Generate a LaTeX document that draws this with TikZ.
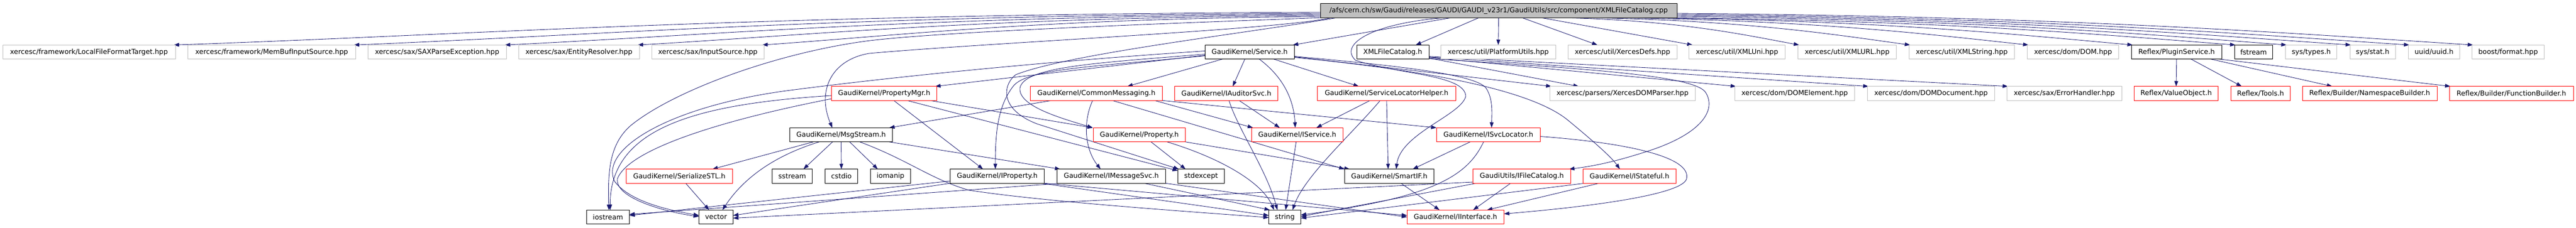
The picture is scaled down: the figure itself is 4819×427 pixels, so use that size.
\documentclass[tikz,border=0pt]{standalone}
\usepackage{fontspec}
\setmainfont{DejaVu Sans}
\usetikzlibrary{arrows.meta}
\definecolor{edgec}{HTML}{191970}
\definecolor{gborder}{HTML}{BFBFBF}
\definecolor{hfill}{HTML}{BFBFBF}
\pgfdeclarelayer{bg}
\pgfdeclarelayer{edges}
\pgfsetlayers{bg,edges,main}
\newcommand\nodefnt{\fontsize{12.85}{15}\selectfont}
\tikzset{
 boxk/.style={rectangle, draw=black, fill=white, line width=0.9pt, inner sep=0pt, outer sep=0pt, minimum height=26.5pt, font=\nodefnt, text=black},
 boxr/.style={boxk, draw=red},
 boxg/.style={boxk, draw=gborder},
 boxh/.style={boxk, fill=hfill},
 dep/.style={draw=edgec, line width=0.85pt, -{Triangle[length=10pt,width=7pt]}},
}
\begin{document}
\begin{tikzpicture}[x=1pt,y=-1pt]
\begin{pgfonlayer}{bg}
\fill[white] (0,0) rectangle (4819,427);
\end{pgfonlayer}
\useasboundingbox (0,0) rectangle (4819,427);
% row 0
\node[boxh, minimum width=667pt] (H) at (2803.5,20) {/afs/cern.ch/sw/Gaudi/releases/GAUDI/GAUDI\_v23r1/GaudiUtils/src/component/XMLFileCatalog.cpp};
% row 1
\node[boxg, minimum width=323pt] (lfft) at (166.5,97.5) {xercesc/framework/LocalFileFormatTarget.hpp};
\node[boxg, minimum width=313.5pt] (membuf) at (508.25,97.5) {xercesc/framework/MemBufInputSource.hpp};
\node[boxg, minimum width=259.5pt] (saxpe) at (817.75,97.5) {xercesc/sax/SAXParseException.hpp};
\node[boxg, minimum width=226pt] (entres) at (1083,97.5) {xercesc/sax/EntityResolver.hpp};
\node[boxg, minimum width=209.5pt] (insrc) at (1324.25,97.5) {xercesc/sax/InputSource.hpp};
\node[boxk, minimum width=167.5pt] (service) at (2337.75,97.5) {GaudiKernel/Service.h};
\node[boxk, minimum width=135pt] (xmlfch) at (2605.5,97.5) {XMLFileCatalog.h};
\node[boxg, minimum width=215.7pt] (platf) at (2802.85,97.5) {xercesc/util/PlatformUtils.hpp};
\node[boxg, minimum width=204pt] (xdefs) at (3035.3,97.5) {xercesc/util/XercesDefs.hpp};
\node[boxg, minimum width=180.3pt] (xmluni) at (3249.45,97.5) {xercesc/util/XMLUni.hpp};
\node[boxg, minimum width=183.6pt] (xmlurl) at (3455.5,97.5) {xercesc/util/XMLURL.hpp};
\node[boxg, minimum width=197.2pt] (xmlstr) at (3669.9,97.5) {xercesc/util/XMLString.hpp};
\node[boxg, minimum width=171pt] (dom) at (3878.1,97.5) {xercesc/dom/DOM.hpp};
\node[boxk, minimum width=168.2pt] (plugin) at (4071.8,97.5) {Reflex/PluginService.h};
\node[boxk, minimum width=71.7pt] (fstream) at (4215.75,97.5) {fstream};
\node[boxg, minimum width=96.2pt] (systypes) at (4323.7,97.5) {sys/types.h};
\node[boxg, minimum width=85.2pt] (sysstat) at (4438.5,97.5) {sys/stat.h};
\node[boxg, minimum width=96.2pt] (uuid) at (4553.3,97.5) {uuid/uuid.h};
\node[boxg, minimum width=135pt] (boost) at (4691.9,97.5) {boost/format.hpp};
% row 2
\node[boxr, minimum width=197pt] (propmgr) at (1654,175) {GaudiKernel/PropertyMgr.h};
\node[boxr, minimum width=247.1pt] (commsg) at (2050.95,175) {GaudiKernel/CommonMessaging.h};
\node[boxr, minimum width=193.2pt] (audsvc) at (2294.1,175) {GaudiKernel/IAuditorSvc.h};
\node[boxr, minimum width=259.4pt] (slh) at (2593.9,175) {GaudiKernel/ServiceLocatorHelper.h};
\node[boxg, minimum width=272pt] (xdp) at (3035.3,175) {xercesc/parsers/XercesDOMParser.hpp};
\node[boxg, minimum width=223.8pt] (domel) at (3357.4,175) {xercesc/dom/DOMElement.hpp};
\node[boxg, minimum width=238pt] (domdoc) at (3612.4,175) {xercesc/dom/DOMDocument.hpp};
\node[boxg, minimum width=214.9pt] (errh) at (3861.85,175) {xercesc/sax/ErrorHandler.hpp};
\node[boxr, minimum width=157.2pt] (valobj) at (4071,175) {Reflex/ValueObject.h};
\node[boxr, minimum width=110.4pt] (tools) at (4228.8,175) {Reflex/Tools.h};
\node[boxr, minimum width=252pt] (nsb) at (4433,175) {Reflex/Builder/NamespaceBuilder.h};
\node[boxr, minimum width=232.2pt] (fnb) at (4698.1,175) {Reflex/Builder/FunctionBuilder.h};
% row 3
\node[boxk, minimum width=192.1pt] (msgs) at (1573.45,252.5) {GaudiKernel/MsgStream.h};
\node[boxr, minimum width=172.2pt] (prop) at (2131.3,252.5) {GaudiKernel/Property.h};
\node[boxr, minimum width=171.4pt] (isvc) at (2426.7,252.5) {GaudiKernel/IService.h};
\node[boxr, minimum width=194pt] (isl) at (2784.3,252.5) {GaudiKernel/ISvcLocator.h};
% row 4
\node[boxr, minimum width=199pt] (ser) at (1270.8,330) {GaudiKernel/SerializeSTL.h};
\node[boxk, minimum width=75pt] (sstream) at (1482,330) {sstream};
\node[boxk, minimum width=60.8pt] (cstdio) at (1574,330) {cstdio};
\node[boxk, minimum width=74.9pt] (iomanip) at (1666,330) {iomanip};
\node[boxk, minimum width=176.4pt] (iprop) at (1865.6,330) {GaudiKernel/IProperty.h};
\node[boxk, minimum width=202.8pt] (imsg) at (2078.9,330) {GaudiKernel/IMessageSvc.h};
\node[boxk, minimum width=87.2pt] (stdexc) at (2246.9,330) {stdexcept};
\node[boxk, minimum width=167.7pt] (smartif) at (2598.85,330) {GaudiKernel/SmartIF.h};
\node[boxr, minimum width=182.9pt] (ifc) at (2846.85,330) {GaudiUtils/IFileCatalog.h};
\node[boxr, minimum width=174pt] (istate) at (3048.3,330) {GaudiKernel/IStateful.h};
% row 5
\node[boxk, minimum width=80pt] (iostream) at (1137.4,406.5) {iostream};
\node[boxk, minimum width=63.9pt] (vector) at (1339.45,406.5) {vector};
\node[boxk, minimum width=60.1pt] (string) at (2403.55,406.5) {string};
\node[boxr, minimum width=181.3pt] (iint) at (2722.85,406.5) {GaudiKernel/IInterface.h};

\begin{pgfonlayer}{edges}
% header -> row 1, left fan
\draw[dep] ([yshift=-3pt]H.west) .. controls (1400,27) and (860,66) .. ([xshift=-3pt]lfft.north east);
\draw[dep] ([yshift=-5pt]H.west) .. controls (1565,29) and (1113,66) .. ([xshift=-3pt]membuf.north east);
\draw[dep] ([yshift=-7pt]H.west) .. controls (1707,31) and (1325,66) .. ([xshift=-3pt]saxpe.north east);
\draw[dep] ([yshift=-9pt]H.west) .. controls (1831,33) and (1512,66) .. ([xshift=-3pt]entres.north east);
\draw[dep] ([yshift=-11pt]H.west) .. controls (1948,35) and (1687,66) .. ([xshift=-3pt]insrc.north east);
% header -> row 1, near
\draw[dep] ([xshift=-89pt]H.south) -- ([xshift=-3pt]service.north east);
\draw[dep] ([xshift=-37pt]H.south) -- ([xshift=43pt]xmlfch.north);
\draw[dep] (H.south) -- (platf.north);
\draw[dep] ([xshift=44pt]H.south) -- ([xshift=-47pt]xdefs.north);
\draw[dep] ([xshift=80pt]H.south) -- ([xshift=7pt]xmluni.north west);
% header -> row 1, right fan
\draw[dep] ([xshift=126pt]H.south) .. controls (3146,39) and (3267,66) .. ([xshift=2pt]xmlurl.north west);
\draw[dep] ([xshift=176pt]H.south) .. controls (3275,39) and (3440,66) .. ([xshift=2pt]xmlstr.north west);
\draw[dep] ([xshift=226pt]H.south) .. controls (3410,39) and (3624,66) .. ([xshift=2pt]dom.north west);
\draw[dep] ([xshift=276pt]H.south) .. controls (3533,39) and (3787,66) .. ([xshift=2pt]plugin.north west);
\draw[dep] ([xshift=316pt]H.south) .. controls (3649,39) and (3945,66) .. ([xshift=2pt]fstream.north west);
\draw[dep] ([yshift=-11pt]H.east) .. controls (3705,37) and (4024,65) .. ([xshift=2pt]systypes.north west);
\draw[dep] ([yshift=-9pt]H.east) .. controls (3765,35) and (4117,65) .. ([xshift=2pt]sysstat.north west);
\draw[dep] ([yshift=-7pt]H.east) .. controls (3820,33) and (4202,64) .. ([xshift=2pt]uuid.north west);
\draw[dep] ([yshift=-5pt]H.east) .. controls (3880,31) and (4295,63) .. ([xshift=2pt]boost.north west);
% header -> deeper nodes
\draw[dep] ([xshift=20pt]H.south west) .. controls (2400,55) and (1850,80) .. (1626,100) .. controls (1555,112) and (1528,170) .. ([xshift=-16.5pt]msgs.north);
\draw[dep] (H.south west) .. controls (2150,45) and (1750,60) .. (1620,77) .. controls (1450,100) and (1260,170) .. (1180,235) .. controls (1140,270) and (1137,320) .. ([xshift=1.6pt]iostream.north);
\draw[dep] ([xshift=30pt]H.south west) .. controls (2350,60) and (2000,100) .. (1900,140) .. controls (1875,160) and (1870,205) .. (1940,232) -- ([xshift=2pt]stdexc.north west);
\draw[dep] ([xshift=-103pt]H.south) .. controls (2560,45) and (2505,85) .. (2536,113) .. controls (2620,140) and (2740,140) .. (2742,180) .. controls (2735,215) and (2620,250) .. ([xshift=13pt]smartif.north);
% Service.h
\draw[dep] ([yshift=-6pt]service.west) -- ([xshift=-3pt]propmgr.north east);
\draw[dep] ([yshift=2pt]service.west) .. controls (2000,112) and (1700,140) .. (1471,170) .. controls (1250,200) and (1120,280) .. (1150,340) .. controls (1180,380) and (1260,395) .. ([yshift=3pt]vector.west);
\draw[dep] ([yshift=-4pt]service.west) .. controls (2050,118) and (1915,125) .. (1908,165) .. controls (1905,198) and (1980,220) .. ([xshift=-1pt]prop.north west);
\draw[dep] ([yshift=-7pt]service.west) .. controls (2050,125) and (1920,128) .. (1895,162) .. controls (1866,200) and (1862,250) .. ([xshift=-3.6pt]iprop.north);
\draw[dep] ([xshift=-51pt]service.south) -- ([xshift=58pt]commsg.north);
\draw[dep] ([xshift=-9pt]service.south) -- ([xshift=12pt]audsvc.north);
\draw[dep] ([xshift=45pt]service.south) -- ([xshift=-52pt]slh.north);
\draw[dep] ([xshift=18pt]service.south) .. controls (2395,140) and (2420,180) .. ([xshift=-3.7pt]isvc.north);
\draw[dep] ([yshift=-8pt]service.east) .. controls (2600,122) and (2760,138) .. (2780,165) .. controls (2793,185) and (2791,210) .. ([xshift=6pt]isl.north);
\draw[dep] ([yshift=-10pt]service.east) .. controls (2650,130) and (2860,165) .. (2933,225) .. controls (2985,268) and (3015,295) .. ([xshift=-18pt]istate.north);
\draw[dep] ([yshift=-9pt]service.east) -- ([xshift=3pt]xdp.north west);
% XMLFileCatalog.h
\draw[dep] ([yshift=2pt]xmlfch.south east) -- ([xshift=54pt]xdp.north west);
\draw[dep] ([yshift=3pt]xmlfch.south east) -- ([xshift=2pt]domel.north west);
\draw[dep] ([yshift=4pt]xmlfch.south east) -- ([xshift=2pt]domdoc.north west);
\draw[dep] ([yshift=5pt]xmlfch.south east) -- ([xshift=2pt]errh.north west);
\draw[dep] ([yshift=1pt]xmlfch.south east) .. controls (2950,128) and (3165,140) .. (3190,172) .. controls (3212,205) and (3185,250) .. (3083,283) .. controls (3030,300) and (2990,310) .. ([xshift=-3pt]ifc.north east);
% Reflex/PluginService.h
\draw[dep] (plugin.south) -- (valobj.north);
\draw[dep] ([xshift=27pt]plugin.south) -- ([xshift=20pt]tools.north west);
\draw[dep] ([xshift=64pt]plugin.south) -- ([xshift=56pt]nsb.north west);
\draw[dep] ([xshift=-4pt]plugin.south east) -- ([xshift=2pt]fnb.north west);
% CommonMessaging.h
\draw[dep] ([xshift=-84pt]commsg.south) -- ([xshift=-6pt]msgs.north east);
\draw[dep] ([xshift=-7pt]commsg.south) .. controls (2025,230) and (2030,280) .. ([xshift=-20pt]imsg.north);
\draw[dep] ([xshift=109pt]commsg.south) -- ([xshift=3pt]isvc.north west);
\draw[dep] (commsg.south east) -- (isl.north west);
\draw[dep] ([xshift=30pt]commsg.south) -- (smartif.north west);
% PropertyMgr.h
\draw[dep] ([xshift=86pt]propmgr.south) -- ([xshift=-1pt]prop.north west);
\draw[dep] ([xshift=18pt]propmgr.south) -- ([xshift=-26.6pt]iprop.north);
\draw[dep] ([xshift=43pt]propmgr.south) -- ([yshift=-3pt]stdexc.north west);
\draw[dep] ([yshift=-10pt]propmgr.west) .. controls (1350,225) and (1175,280) .. (1155,335) .. controls (1150,372) and (1250,398) .. ([yshift=1pt]vector.west);
\draw[dep] ([yshift=-4pt]propmgr.west) .. controls (1300,195) and (1141,240) .. ([xshift=4pt]iostream.north);
% Property.h
\draw[dep] (prop.south east) -- ([xshift=10pt]smartif.north west);
\draw[dep] ([xshift=22pt]prop.south) -- ([xshift=-29pt]stdexc.north);
\draw[dep] ([xshift=52pt]prop.south) .. controls (2280,295) and (2360,340) .. ([xshift=10pt]string.north west);
% MsgStream.h
\draw[dep] ([xshift=-52pt]msgs.south) -- ([xshift=62pt]ser.north);
\draw[dep] ([xshift=-16pt]msgs.south) -- ([xshift=21pt]sstream.north);
\draw[dep] (msgs.south) -- (cstdio.north);
\draw[dep] ([xshift=16pt]msgs.south) -- ([xshift=-24pt]iomanip.north);
\draw[dep] ([xshift=-41pt]msgs.south) .. controls (1470,285) and (1400,320) .. ([xshift=12pt]vector.north);
\draw[dep] ([xshift=90pt]msgs.south) -- ([xshift=6pt]imsg.north west);
\draw[dep] ([xshift=35pt]msgs.south) .. controls (1700,300) and (1740,335) .. (1812,356) .. controls (1950,378) and (2250,398) .. ([yshift=-1pt]string.west);
% SerializeSTL.h
\draw[dep] ([xshift=12pt]ser.south) -- ([xshift=-13pt]vector.north);
% IProperty.h
\draw[dep] ([yshift=-9pt]iprop.west) -- ([yshift=3pt]iostream.east);
\draw[dep] (iprop.south west) -- ([yshift=3pt]vector.east);
\draw[dep] ([xshift=-6pt]iprop.south east) -- ([yshift=3pt]string.west);
\draw[dep] (iprop.south east) -- ([yshift=3pt]iint.west);
% IMessageSvc.h
\draw[dep] ([xshift=8pt]imsg.south west) -- ([yshift=5pt]iostream.east);
\draw[dep] ([xshift=-40pt]imsg.south east) -- ([xshift=2pt]string.north west);
\draw[dep] (imsg.south east) -- (iint.west);
% ServiceLocatorHelper.h
\draw[dep] ([xshift=-31pt]slh.south) -- ([xshift=36pt]isvc.north);
\draw[dep] (slh.south) -- ([xshift=-2pt]smartif.north);
\draw[dep] ([xshift=-12pt]slh.south) .. controls (2530,250) and (2440,330) .. ([xshift=14.5pt]string.north);
% IAuditorSvc.h
\draw[dep] ([xshift=24pt]audsvc.south) -- ([xshift=-32.7pt]isvc.north);
\draw[dep] ([xshift=5pt]audsvc.south) .. controls (2315,240) and (2370,320) .. ([xshift=-14pt]string.north);
% IService.h
\draw[dep] ([xshift=-2pt]isvc.south) -- ([xshift=1.5pt]string.north);
% ISvcLocator.h
\draw[dep] ([xshift=-34pt]isl.south) -- ([xshift=44pt]smartif.north);
\draw[dep] ([xshift=-9pt]isl.south) .. controls (2745,330) and (2680,370) .. ([yshift=4pt]string.east);
\draw[dep] ([yshift=-3pt]isl.east) .. controls (3050,268) and (3165,295) .. (3155,335) .. controls (3148,362) and (3000,385) .. ([yshift=6pt]iint.east);
% SmartIF.h
\draw[dep] ([xshift=22pt]smartif.south) -- ([xshift=-30pt]iint.north);
% IFileCatalog.h
\draw[dep] ([xshift=-21pt]ifc.south) -- ([xshift=33pt]iint.north);
\draw[dep] ([xshift=6pt]ifc.south west) -- ([yshift=1pt]string.east);
\draw[dep] ([yshift=-11pt]ifc.west) -- ([yshift=-2pt]vector.east);
% IStateful.h
\draw[dep] ([xshift=-57pt]istate.south) -- ([xshift=59pt]iint.north);
\draw[dep] ([xshift=3pt]istate.south west) -- ([yshift=-2pt]string.east);
\end{pgfonlayer}
\end{tikzpicture}
\end{document}
